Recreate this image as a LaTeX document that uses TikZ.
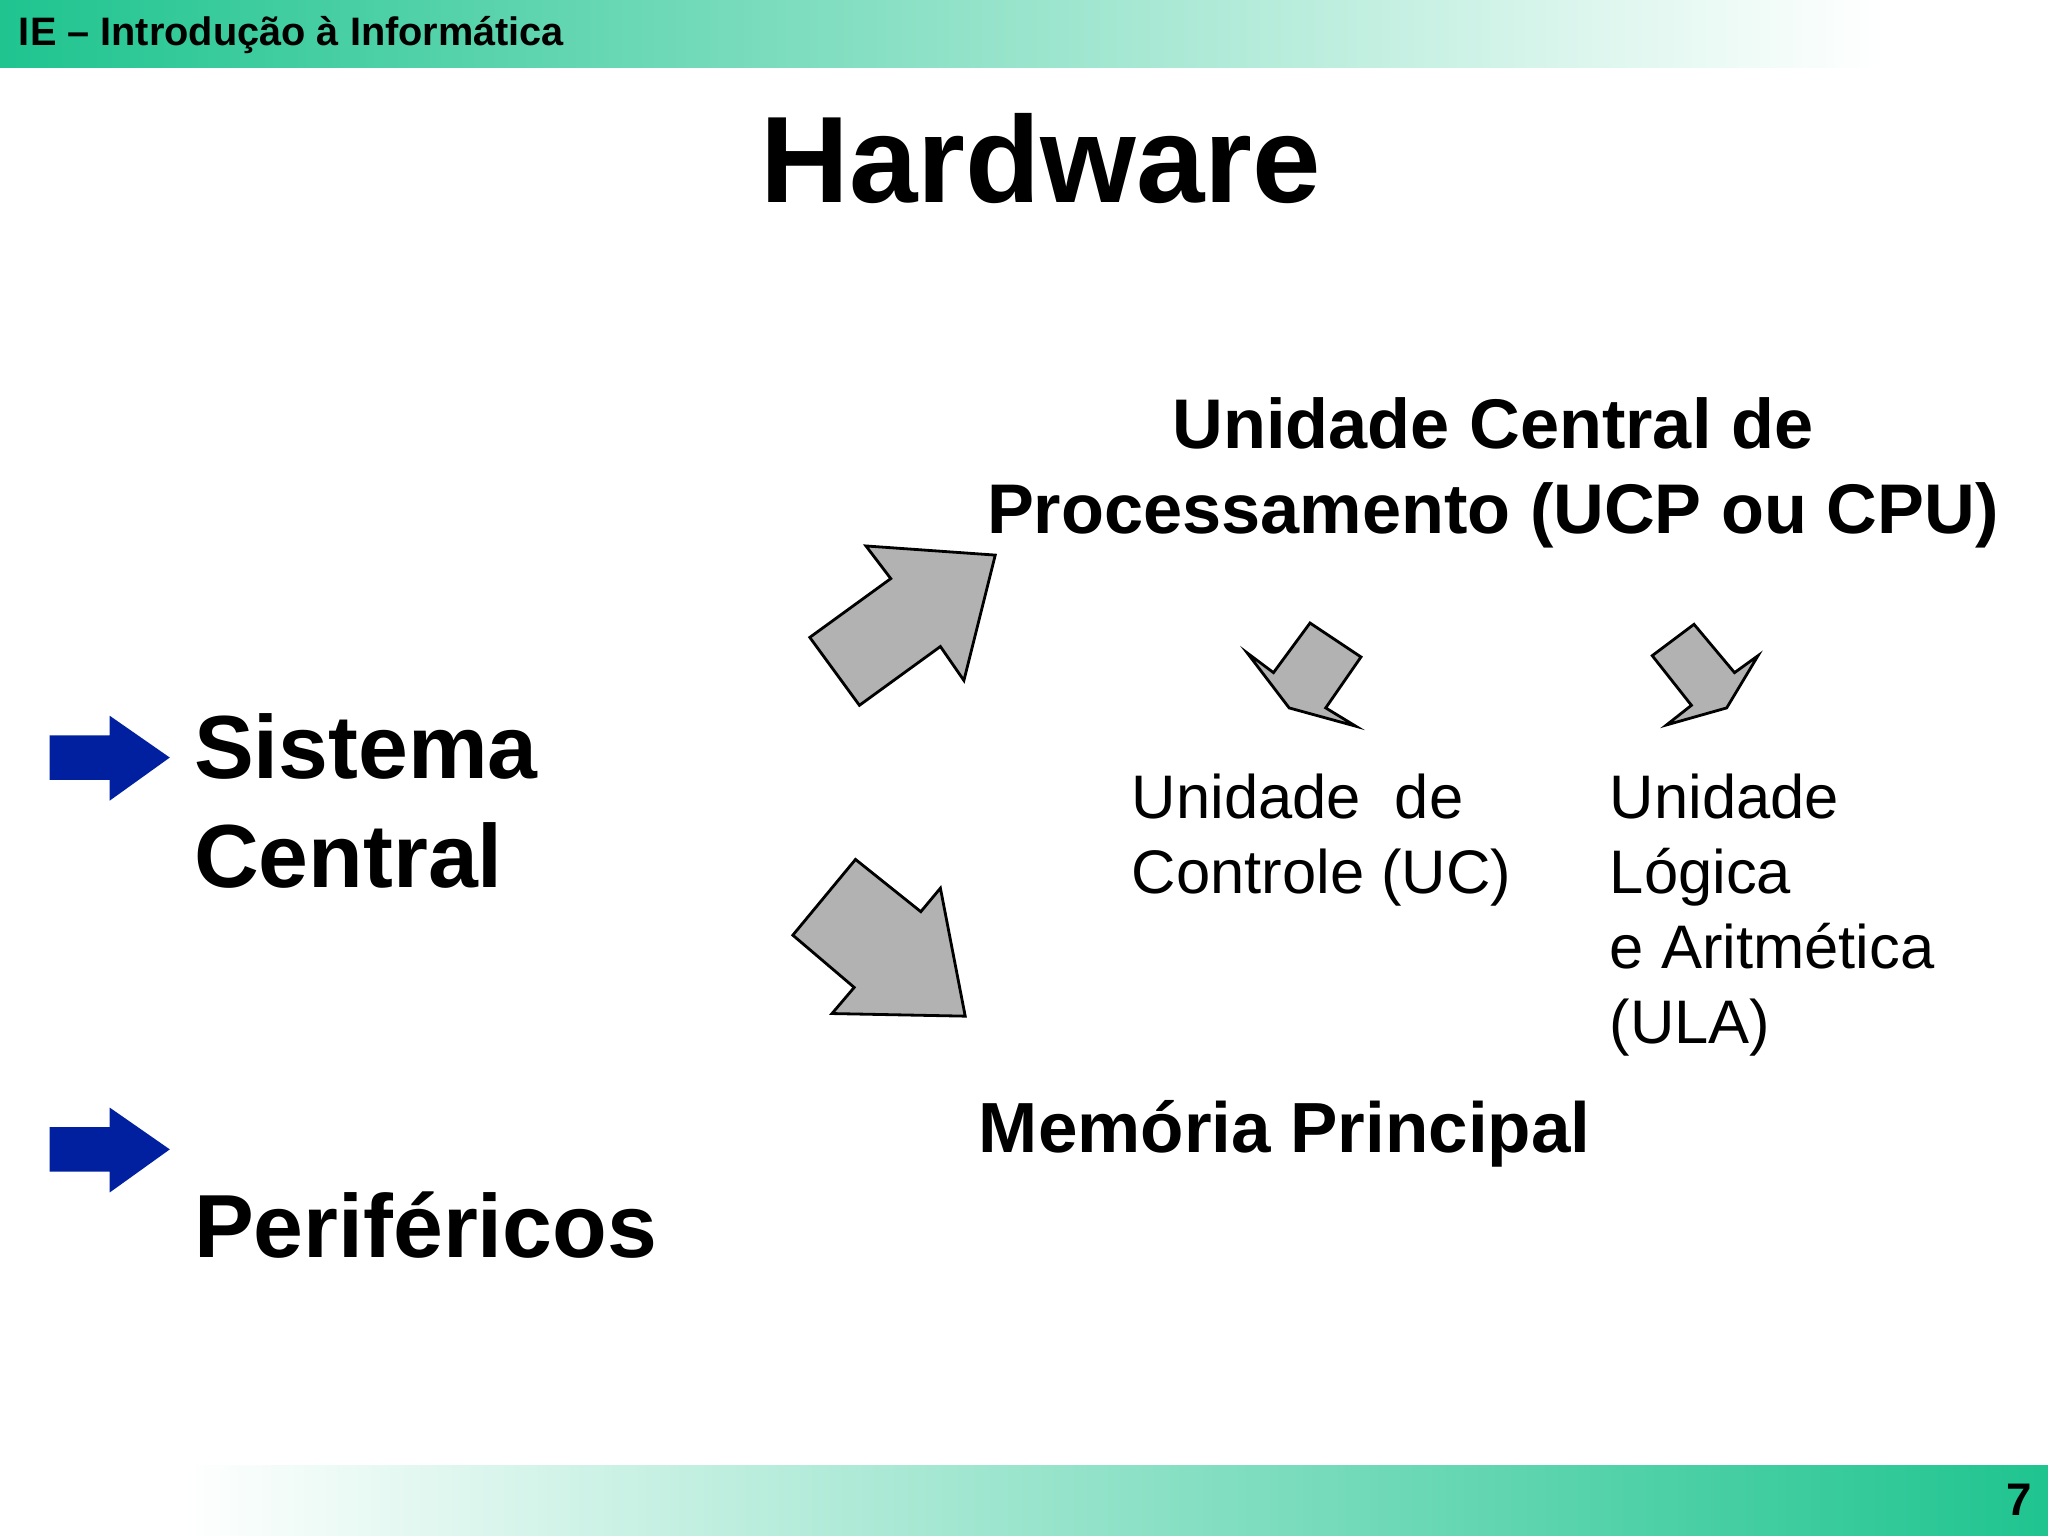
\documentclass[tikz,border=0pt]{standalone}
\usepackage{fontspec}
\setmainfont{Liberation Sans}
\definecolor{teal1}{RGB}{31,196,143}
\definecolor{navy}{RGB}{0,32,160}
\definecolor{arrgray}{RGB}{178,178,178}
\begin{document}
\begin{tikzpicture}[x=0.013061cm,y=-0.013061cm,
  bigarrow/.style={fill=arrgray,draw=black,line width=0.8pt,line join=miter},
  bluearrow/.style={fill=navy},
  txt/.style={inner sep=0pt,anchor=west,align=left}]
\useasboundingbox (0,0) rectangle (1568,1176);
\shade[left color=teal1,right color=white] (0,0) rectangle (1440,52);
\fill[white] (1440,0) rectangle (1568,52);
\shade[left color=white,right color=teal1] (140,1122) rectangle (1568,1176);
\fill[white] (0,1122) rectangle (140,1176);
\node[txt,font=\fontsize{11.3pt}{13pt}\selectfont\bfseries] (hdr) at (14,27) {IE – Introdução à Informática};
\node[inner sep=0pt,anchor=east,font=\fontsize{13pt}{15pt}\selectfont\bfseries] (pg) at (1556,1148) {7};
\node[inner sep=0pt,font=\fontsize{35pt}{40pt}\selectfont\bfseries] (title) at (797,121) {Hardware};
% blue arrows
\fill[bluearrow] (38,563) -- (84,563) -- (84,548) -- (130,580) -- (84,613) -- (84,597) -- (38,597) -- cycle;
\fill[bluearrow] (38,863) -- (84,863) -- (84,848) -- (130,880) -- (84,913) -- (84,897) -- (38,897) -- cycle;
\node[txt,anchor=north west,font=\fontsize{25.5pt}{31pt}\selectfont\bfseries] (sc) at (148,546) {Sistema\\Central};
\node[txt,anchor=north west,font=\fontsize{25.5pt}{31pt}\selectfont\bfseries] (per) at (148,912) {Periféricos};
\node[inner sep=0pt,align=center,font=\fontsize{20pt}{24pt}\selectfont\bfseries] (ucp) at (1143,362) {Unidade Central de\\Processamento (UCP ou CPU)};
\node[txt,font=\fontsize{20.2pt}{24pt}\selectfont\bfseries] (mp) at (749,868) {Memória Principal};
\node[txt,anchor=north west,font=\fontsize{17.5pt}{21.3pt}\selectfont] (uc) at (866,592) {Unidade\ \ de\\Controle (UC)};
\node[txt,anchor=north west,font=\fontsize{17.5pt}{21.3pt}\selectfont] (ula) at (1232,592) {Unidade\\Lógica\\e Aritmética\\(ULA)};
% gray arrows
\draw[bigarrow] (663,418) -- (762,425) -- (738,521) -- (720,495) -- (658,540) -- (620,488) -- (682,443) -- cycle;
\draw[bigarrow] (655,658) -- (705,698) -- (720,680) -- (739,778) -- (637,776) -- (654,756) -- (607,716) -- cycle;
\draw[bigarrow] (1003,477) -- (1042,503) -- (1015,542) -- (1038,556) -- (987,542) -- (955,500) -- (975,515) -- cycle;
\draw[bigarrow] (1297,478) -- (1328,515) -- (1346,502) -- (1322,542) -- (1276,555) -- (1295,540) -- (1265,502) -- cycle;
\end{tikzpicture}
\end{document}
